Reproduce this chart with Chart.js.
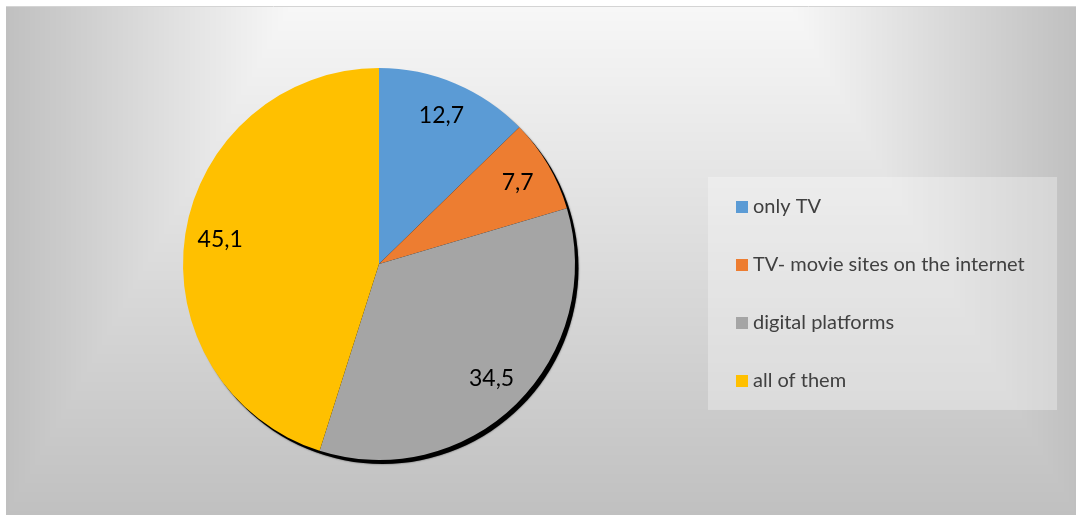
<!DOCTYPE html>
<html>
<head>
<meta charset="utf-8">
<title>Viewing habits</title>
<script src="https://cdn.jsdelivr.net/npm/chart.js@4.4.1/dist/chart.umd.min.js"></script>
<style>
  html, body { margin: 0; padding: 0; background: #ffffff; }
  canvas { display: block; }
</style>
</head>
<body>
<canvas id="pie" width="1077" height="515"></canvas>
<script>
// Share of respondents by the way they watch (percent)
const categories = ['only TV', 'TV- movie sites on the internet', 'digital platforms', 'all of them'];
const shares = [12.7, 7.7, 34.5, 45.1];
const valueLabels = ['12,7', '7,7', '34,5', '45,1'];
const sliceColors = ['#5B9BD5', '#ED7D31', '#A5A5A5', '#FFC000'];

// Panel background: rectangular light-to-grey gradient from the top centre
const panelBackground = {
  id: 'panelBackground',
  beforeDraw(chart) {
    const ctx = chart.ctx;
    const W = chart.width, H = chart.height;
    const img = ctx.createImageData(W, H);
    const x0 = 6, x1 = 1076, y0 = 7;
    const cL = 290, cR = 790;
    const hi = 247, lo = 192;
    for (let y = 0; y < H; y++) {
      for (let x = 0; x < W; x++) {
        const i = (y * W + x) * 4;
        let v = 255;
        if (x >= x0 && x < x1 && y >= y0) {
          const dx = x < cL ? (cL - x) / (cL - x0) : (x > cR ? (x - cR) / (x1 - cR) : 0);
          const dy = (y - y0) / (H - y0);
          const t = Math.min(1, Math.max(dx, dy));
          v = Math.round(hi - (hi - lo) * t);
        }
        img.data[i] = v; img.data[i + 1] = v; img.data[i + 2] = v; img.data[i + 3] = 255;
      }
    }
    ctx.putImageData(img, 0, 0);
    ctx.save();
    ctx.strokeStyle = '#d4d4d4';
    ctx.lineWidth = 1;
    ctx.beginPath();
    ctx.moveTo(x0, y0 - 0.5);
    ctx.lineTo(x1, y0 - 0.5);
    ctx.stroke();
    ctx.restore();
  }
};

// Dark drop shadow under the pie
const pieShadow = {
  id: 'pieShadow',
  beforeDatasetsDraw(chart) {
    const arc = chart.getDatasetMeta(0).data[0];
    if (!arc) return;
    const ctx = chart.ctx;
    ctx.save();
    ctx.fillStyle = '#000000';
    ctx.shadowColor = 'rgba(0,0,0,0.6)';
    ctx.shadowBlur = 2;
    ctx.beginPath();
    ctx.arc(arc.x + 3.5, arc.y + 4, arc.outerRadius, 0, Math.PI * 2);
    ctx.fill();
    ctx.restore();
  }
};

// Value labels inside each slice
const sliceLabels = {
  id: 'sliceLabels',
  afterDatasetsDraw(chart) {
    const ctx = chart.ctx;
    const meta = chart.getDatasetMeta(0);
    ctx.save();
    ctx.font = '23px Lato, "Open Sans", sans-serif';
    ctx.fillStyle = '#000000';
    ctx.textAlign = 'center';
    ctx.textBaseline = 'middle';
    meta.data.forEach((arc, i) => {
      const mid = (arc.startAngle + arc.endAngle) / 2;
      const r = arc.outerRadius * 0.82;
      ctx.fillText(valueLabels[i], arc.x + Math.cos(mid) * r, arc.y + Math.sin(mid) * r);
    });
    ctx.restore();
  }
};

// Legend panel on the right
const legendPanel = {
  id: 'legendPanel',
  afterDraw(chart) {
    const ctx = chart.ctx;
    const box = { x: 708, y: 177, w: 349, h: 233 };
    ctx.save();
    ctx.fillStyle = 'rgba(255,255,255,0.3)';
    ctx.fillRect(box.x, box.y, box.w, box.h);
    ctx.font = '20px Lato, "Open Sans", sans-serif';
    ctx.textAlign = 'left';
    ctx.textBaseline = 'middle';
    const rowTop = 207, rowStep = 58;
    categories.forEach((name, i) => {
      const cy = rowTop + i * rowStep;
      ctx.fillStyle = sliceColors[i];
      ctx.fillRect(736, cy - 6, 12, 12);
      ctx.fillStyle = '#404040';
      ctx.fillText(name, 753, cy);
    });
    ctx.restore();
  }
};

new Chart(document.getElementById('pie'), {
  type: 'pie',
  data: {
    labels: categories,
    datasets: [{
      data: shares,
      backgroundColor: sliceColors,
      borderWidth: 0
    }]
  },
  options: {
    responsive: false,
    animation: false,
    events: [],
    layout: { padding: { left: 183, right: 502, top: 68, bottom: 55 } },
    plugins: {
      legend: { display: false },
      tooltip: { enabled: false },
      title: { display: false }
    }
  },
  plugins: [panelBackground, pieShadow, sliceLabels, legendPanel]
});
</script>
</body>
</html>
